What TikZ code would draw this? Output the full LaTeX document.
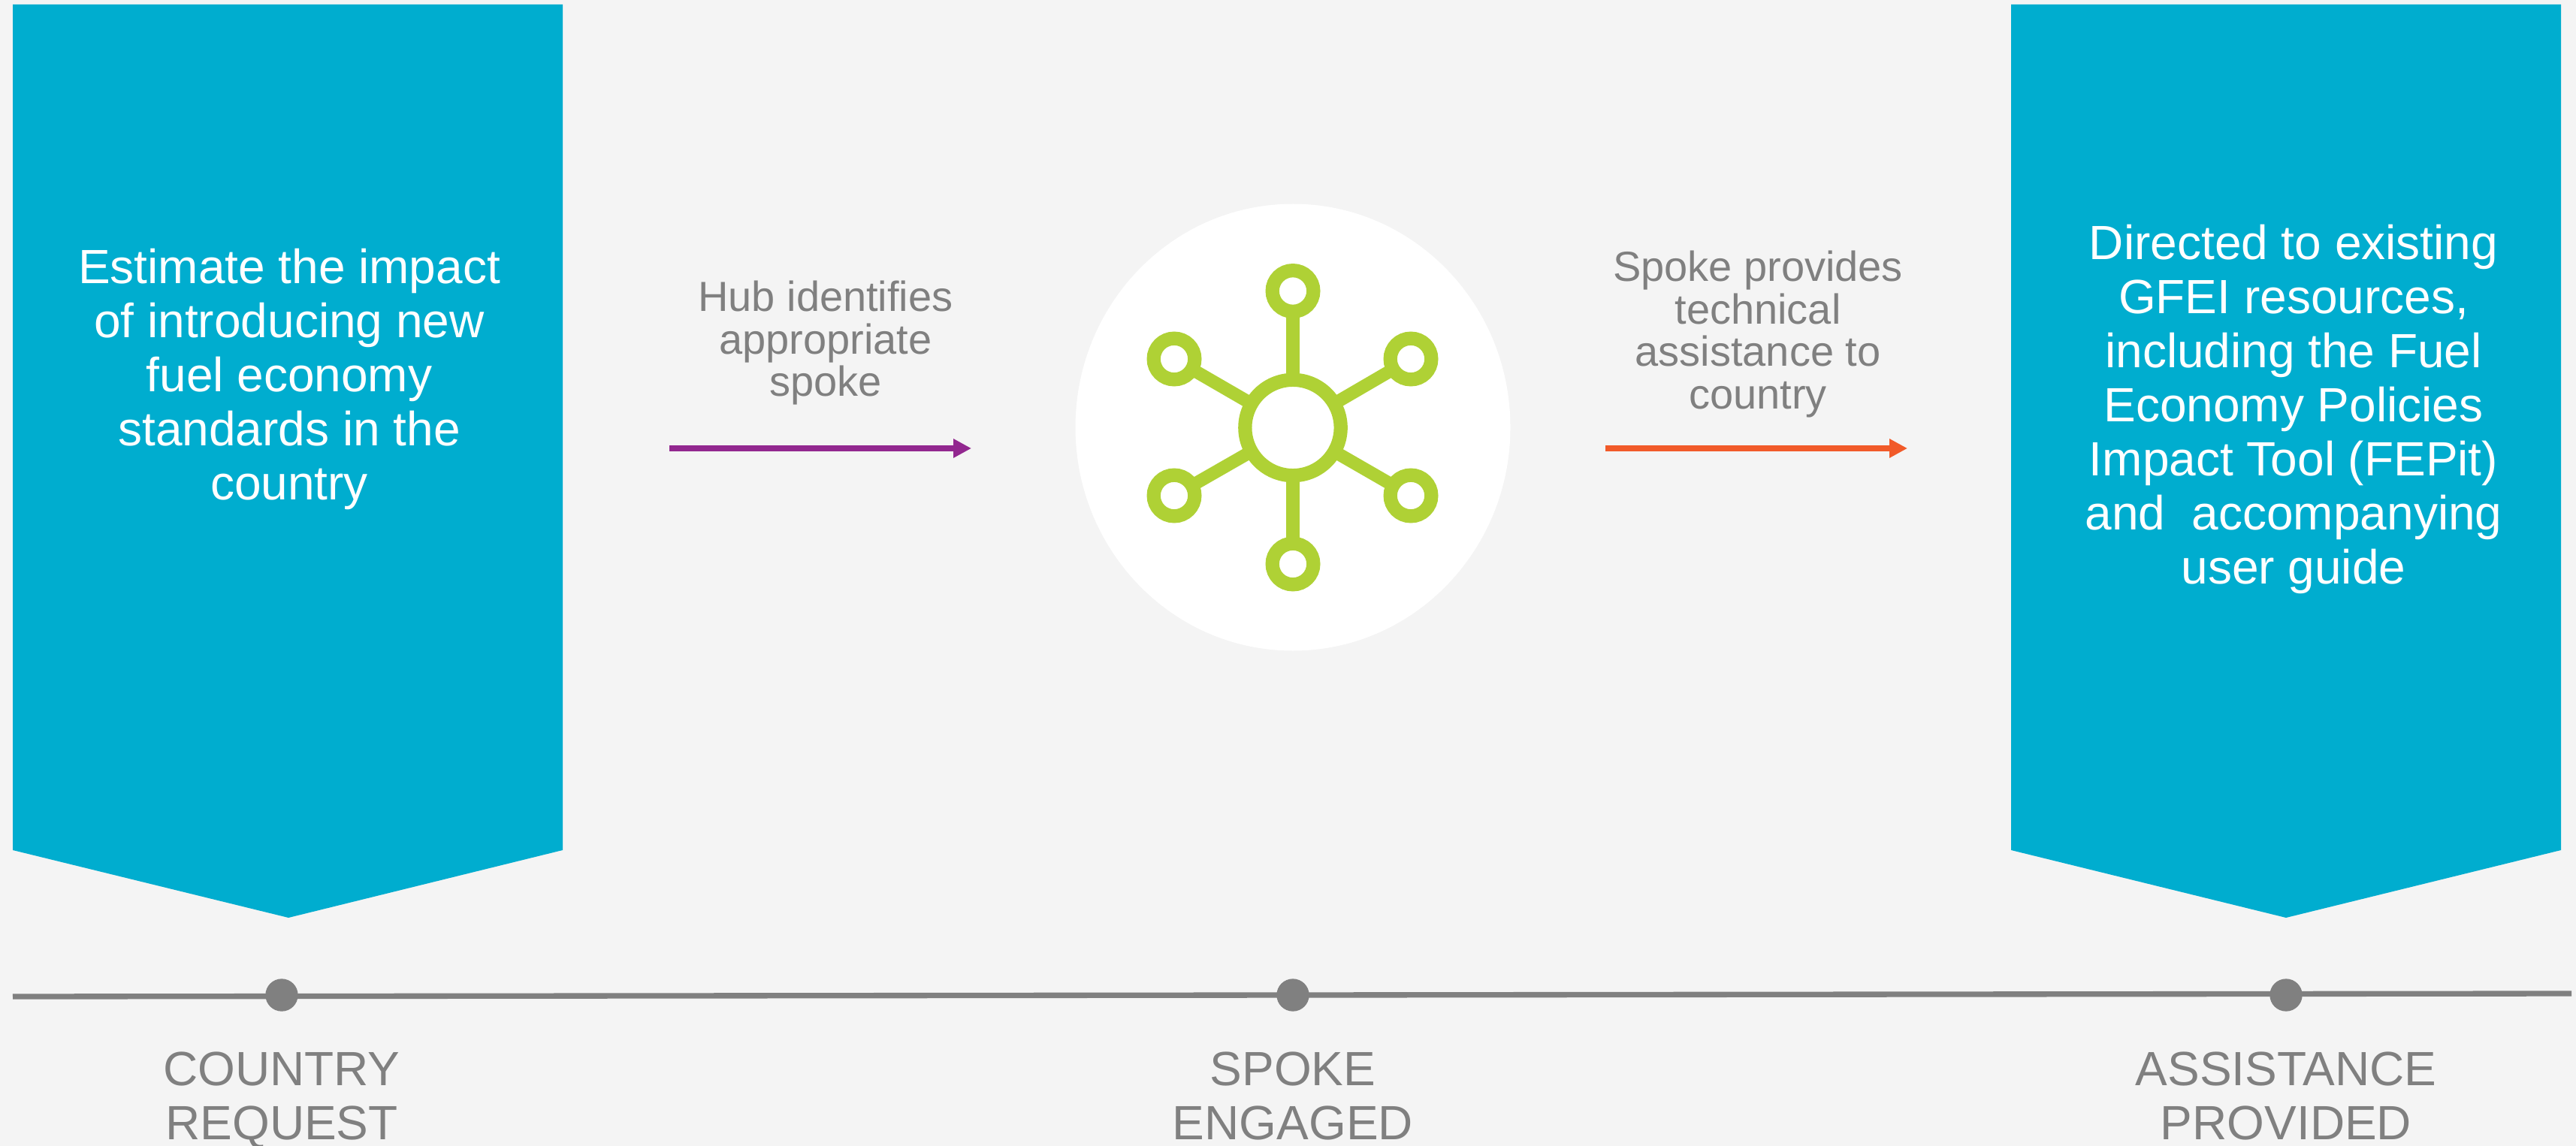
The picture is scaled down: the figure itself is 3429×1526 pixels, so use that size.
\documentclass[tikz,border=0pt]{standalone}
\usepackage{fontspec}
\setmainfont{Liberation Sans}
\usepackage{tikz}
\usetikzlibrary{arrows.meta}
\definecolor{pagebg}{HTML}{F4F4F4}
\definecolor{bannerblue}{HTML}{00ADCF}
\definecolor{labelgrey}{HTML}{808080}
\definecolor{hubgreen}{HTML}{AFD135}
\definecolor{hubpurple}{HTML}{92278F}
\definecolor{spokeorange}{HTML}{F15A29}
\tikzset{
  bannertext/.style={anchor=north,inner sep=0pt,align=center,text=white,font=\fontsize{48}{54}\selectfont},
  stagetext/.style={anchor=north,inner sep=0pt,align=center,text=labelgrey,font=\fontsize{48}{54}\selectfont},
  steptext/.style={anchor=north,inner sep=0pt,align=center,text=labelgrey,font=\fontsize{42}{42.4}\selectfont},
  stagedot/.style={circle,fill=labelgrey,inner sep=0pt,minimum size=32.5pt},
  hubring/.style={circle,draw=hubgreen,fill=white,line width=13.7pt,inner sep=0pt,minimum size=95.5pt},
  spokering/.style={circle,draw=hubgreen,fill=white,line width=13.7pt,inner sep=0pt,minimum size=41pt},
  spokeline/.style={draw=hubgreen,line width=12.8pt},
  steparrow/.style={line width=6pt,-{Triangle[length=18pt,width=18pt]}}
}
\begin{document}
\begin{tikzpicture}[x=0.75pt,y=0.75pt,yscale=-1,xscale=1]
\useasboundingbox (0,0) rectangle (3429,1526);
%Background
\fill [pagebg] (0,0) rectangle (3429,1526);
%Banners
\fill [bannerblue] (17,6) -- (749,6) -- (749,1132) -- (384,1222) -- (17,1132) -- cycle ;
\fill [bannerblue] (2677,6) -- (3409,6) -- (3409,1132) -- (3043,1222) -- (2677,1132) -- cycle ;
%White disc
\fill [white] (1721,569) ellipse [x radius=289.5,y radius=297.5];

%Time line
\coordinate (linestart) at (17,1327);
\coordinate (lineend) at (3423,1323);
\draw [labelgrey,line width=5.5pt] (linestart) -- (lineend);
\node (dotrequest) [stagedot] at (375,1325) {};
\node (dotengaged) [stagedot] at (1721,1325) {};
\node (dotprovided) [stagedot] at (3043,1325) {};

%Arrows
\coordinate (hubstart) at (891,597);
\coordinate (hubend) at (1293,597);
\coordinate (spokestart) at (2137,597);
\coordinate (spokeend) at (2539,597);
\draw [steparrow,hubpurple] (hubstart) -- (hubend);
\draw [steparrow,spokeorange] (spokestart) -- (spokeend);

%Hub icon
\node (hubcentre) [hubring] at (1721,569.5) {};
\node (spoketop) [spokering] at (1721,387.5) {};
\node (spokebottom) [spokering] at (1721,751) {};
\node (spokeupleft) [spokering] at (1563,478) {};
\node (spokeupright) [spokering] at (1878,478) {};
\node (spokedownleft) [spokering] at (1563,660) {};
\node (spokedownright) [spokering] at (1878,660) {};
\foreach \spokename in {spoketop,spokebottom,spokeupleft,spokeupright,spokedownleft,spokedownright}
  \draw [spokeline,shorten <=-3pt,shorten >=-3pt] (hubcentre) -- (\spokename);

% Text Node
\node (requesttext) [bannertext] at (385,331) {Estimate the impact\\of introducing new\\fuel economy\\standards in the\\country};
% Text Node
\node (providedtext) [bannertext] at (3053,299) {Directed to existing\\GFEI resources,\\including the Fuel\\Economy Policies\\Impact Tool (FEPit)\\and\ \ accompanying\\user guide};
% Text Node
\node (hubtext) [steptext] at (1099,374) {Hub identifies\\appropriate\\spoke};
% Text Node
\node (spoketext) [steptext] at (2340,334) {Spoke provides\\technical\\assistance to\\country};
% Text Node
\node (requeststage) [stagetext] at (375,1401) {COUNTRY\\REQUEST};
% Text Node
\node (engagedstage) [stagetext] at (1721,1401) {SPOKE\\ENGAGED};
% Text Node
\node (providedstage) [stagetext] at (3043,1401) {ASSISTANCE\\PROVIDED};
\end{tikzpicture}
\end{document}
